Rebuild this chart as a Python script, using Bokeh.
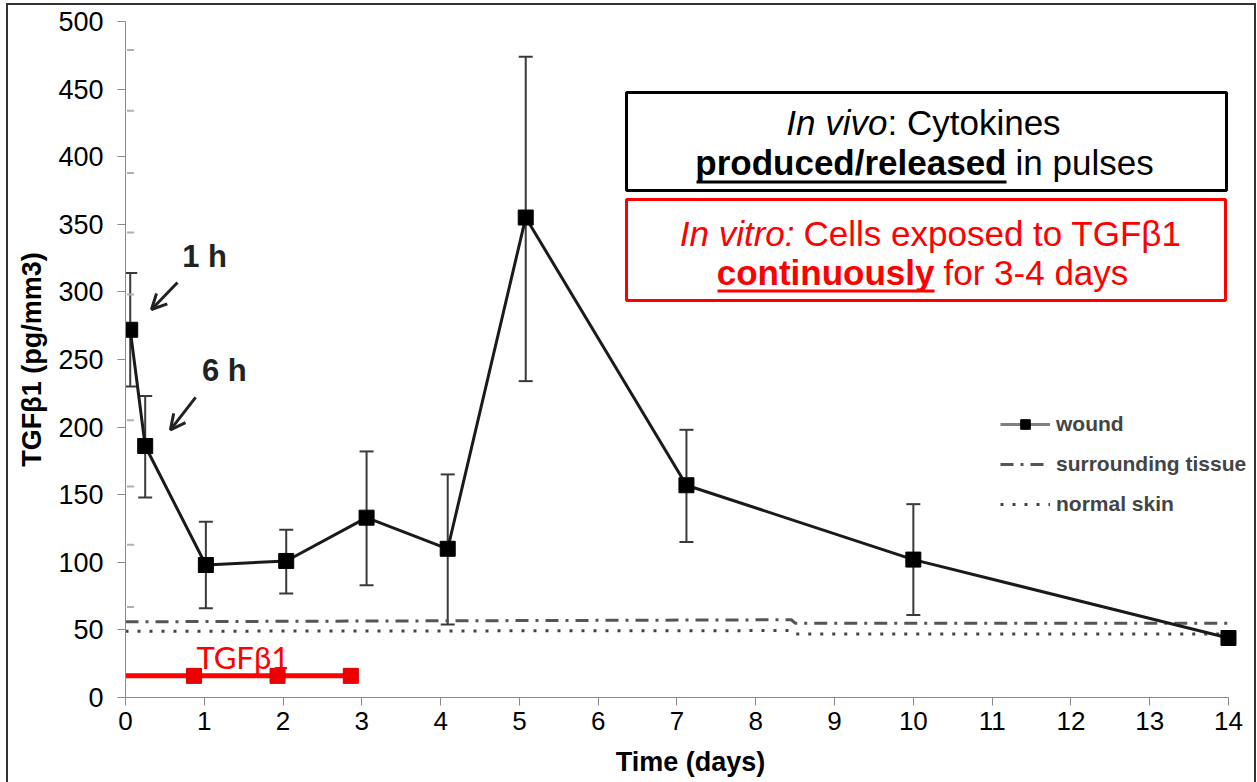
import math
from bokeh.plotting import figure
from bokeh.models import (Range1d, FixedTicker, ColumnDataSource, Whisker, TeeHead, Label,
                          BoxAnnotation, Arrow, OpenHead, Legend, LegendItem, InlineStyleSheet)
from bokeh.embed import file_html
from bokeh.resources import INLINE

# ---------------- data ----------------
days = [0.06, 0.25, 1.02, 2.04, 3.06, 4.09, 5.08, 7.12, 10.0, 14.0]
wound = [272, 186, 98, 101, 133, 110, 355, 157, 102, 44]
err_days = [0.06, 0.25, 1.02, 2.04, 3.06, 4.09, 5.08, 7.12, 10.0]
err_upper = [314, 223, 130, 124, 182, 165, 474, 198, 143]
err_lower = [230, 148, 66, 77, 83, 54, 234, 115, 61]

tissue_days = [0, 8.45, 8.5, 14]
surrounding = [56, 57.5, 55, 55]
normal_skin = [49, 49.5, 47, 47]

# in vitro exposure bar
tgf_days = [0, 2.95]
tgf_level = [16, 16]
tgf_marks = [0.87, 1.93, 2.86]
tgf_mark_level = [16, 16, 16]

# faint ticks of the scanned original axis
ghost_x = [0.063] * 9
ghost_y = [479, 434, 388, 344, 298, 205, 156, 113, 67]

x_ticks = list(range(0, 15))
y_ticks = list(range(0, 501, 50))

FONT = "Liberation Sans"
NAN = float("nan")

# ---------------- figure ----------------
p = figure(width=1257, height=782, output_backend="svg", toolbar_location=None,
           x_range=Range1d(0, 14.343), y_range=Range1d(0, 500),
           min_border_left=125, min_border_right=2, min_border_top=21, min_border_bottom=85)
p.outline_line_color = None
p.grid.visible = False
p.background_fill_color = "white"
p.border_fill_color = "white"
p.stylesheets = [InlineStyleSheet(css=(
    ":host::after { content: ''; position: absolute; left: 6px; top: 3px; width: 1250px; "
    "height: 779px; border: 2px solid #333333; border-bottom: none; box-sizing: border-box; "
    "pointer-events: none; z-index: 10; }"))]

for ax in (p.xaxis[0], p.yaxis[0]):
    ax.axis_line_color = "#8a8a8a"
    ax.major_tick_line_color = "#8a8a8a"
    ax.major_tick_in = 0
    ax.major_tick_out = 8
    ax.minor_tick_line_color = None
    ax.major_label_text_font = FONT
    ax.major_label_text_color = "black"
    ax.axis_label_text_font = FONT
    ax.axis_label_text_font_style = "bold"
    ax.axis_label_text_color = "black"
    ax.axis_label_text_font_size = "27px"

p.xaxis[0].ticker = FixedTicker(ticks=x_ticks)
p.xaxis[0].bounds = (0, 14)
p.yaxis[0].ticker = FixedTicker(ticks=y_ticks)
p.xaxis[0].major_label_text_font_size = "26px"
p.yaxis[0].major_label_text_font_size = "27px"
p.xaxis[0].major_label_standoff = 6
p.yaxis[0].major_label_standoff = 14
p.xaxis[0].axis_label = "Time (days)"
p.yaxis[0].axis_label = "TGFβ1 (pg/mm3)"
p.xaxis[0].axis_label_standoff = 14
p.yaxis[0].axis_label_standoff = 8

# ghost ticks
p.scatter(ghost_x, ghost_y, marker="dash", size=7, line_color="#b0b0b0", line_width=2)

# tissue baselines
r_surr = p.line(tissue_days, surrounding, line_color="#555555", line_width=3, line_dash="13 7 3 7")
r_norm = p.line(tissue_days, normal_skin, line_color="#444444", line_width=3, line_dash="3 9")

# error bars
src_err = ColumnDataSource(dict(x=err_days, upper=err_upper, lower=err_lower))
p.add_layout(Whisker(source=src_err, base="x", upper="upper", lower="lower", dimension="height",
                     line_color="#3a3a3a", line_width=2,
                     upper_head=TeeHead(size=14, line_color="#3a3a3a", line_width=2),
                     lower_head=TeeHead(size=14, line_color="#3a3a3a", line_width=2)))

# wound series
p.line(days, wound, line_color="#1a1a1a", line_width=3)
p.scatter(days, wound, marker="square", size=15, fill_color="black", line_color="black")

# in vitro TGFb1 exposure
p.line(tgf_days, tgf_level, line_color="#ff0000", line_width=5)
p.scatter(tgf_marks, tgf_mark_level, marker="square", size=15, fill_color="#ee0000", line_color="#d00000")
p.add_layout(Label(x=0.9, y=30, text="TGFβ1", text_color="#ff0000", text_font="Lato",
                   text_font_size="31px", text_baseline="alphabetic"))

# time annotations
p.add_layout(Label(x=0.72, y=313, text="1 h", text_font=FONT, text_font_style="bold",
                   text_font_size="31px", text_color="#222222"))
p.add_layout(Label(x=0.97, y=229, text="6 h", text_font=FONT, text_font_style="bold",
                   text_font_size="31px", text_color="#222222"))
p.add_layout(Arrow(x_start=0.66, y_start=307, x_end=0.33, y_end=287, line_width=3, line_color="#222222",
                   end=OpenHead(size=15, line_width=3, line_color="#222222")))
p.add_layout(Arrow(x_start=0.89, y_start=222, x_end=0.57, y_end=198, line_width=3, line_color="#222222",
                   end=OpenHead(size=15, line_width=3, line_color="#222222")))

# legend (proxy renderers with no visible data for the wound sample)
leg_w_line = p.line([NAN, NAN], [NAN, NAN], line_color="#808080", line_width=3)
leg_w_mark = p.scatter([NAN], [NAN], marker="square", size=11, fill_color="black", line_color="black")
legend = Legend(items=[LegendItem(label="wound", renderers=[leg_w_line, leg_w_mark]),
                       LegendItem(label="surrounding tissue", renderers=[r_surr]),
                       LegendItem(label="normal skin", renderers=[r_norm])],
                location=(875, 181), padding=0, margin=0, spacing=16,
                glyph_width=50, glyph_height=24, label_height=24, label_standoff=6,
                label_text_font=FONT, label_text_font_style="bold", label_text_font_size="21px",
                label_text_baseline="middle", border_line_color=None, background_fill_alpha=0)
p.add_layout(legend, "center")

# text boxes (screen coords relative to the frame: x from left, y up from bottom)
def sbox(l, r, t, b, **kw):
    return BoxAnnotation(left=l, right=r, top=t, bottom=b, left_units="screen", right_units="screen",
                         top_units="screen", bottom_units="screen", **kw)

p.add_layout(sbox(501, 1101, 605, 507, fill_alpha=0, line_color="black", line_alpha=1, line_width=3))
p.add_layout(sbox(501, 1100, 498, 397, fill_alpha=0, line_color="#ff0000", line_alpha=1, line_width=3))

def slabel(x, y, text, color="black", style="normal", align="left"):
    return Label(x=x, y=y, x_units="screen", y_units="screen", text=text, text_color=color,
                 text_font=FONT, text_font_style=style, text_font_size="35px",
                 text_align=align, text_baseline="alphabetic")

p.add_layout(slabel(762, 575, "In vivo", style="italic", align="right"))
p.add_layout(slabel(762, 575, ": Cytokines"))
p.add_layout(slabel(881, 535, "produced/released", style="bold", align="right"))
p.add_layout(slabel(890, 535, "in pulses"))
p.add_layout(sbox(571, 881, 517, 514, fill_color="black", fill_alpha=1, line_alpha=0))

p.add_layout(slabel(669, 464, "In vitro:", color="#ff0000", style="italic", align="right"))
p.add_layout(slabel(678, 464, "Cells exposed to TGFβ1", color="#ff0000"))
p.add_layout(slabel(809, 425, "continuously", color="#ff0000", style="bold", align="right"))
p.add_layout(slabel(818, 425, "for 3-4 days", color="#ff0000"))
p.add_layout(sbox(592, 809, 408, 405, fill_color="#ff0000", fill_alpha=1, line_alpha=0))

open("out.html", "w").write(file_html(p, INLINE))
